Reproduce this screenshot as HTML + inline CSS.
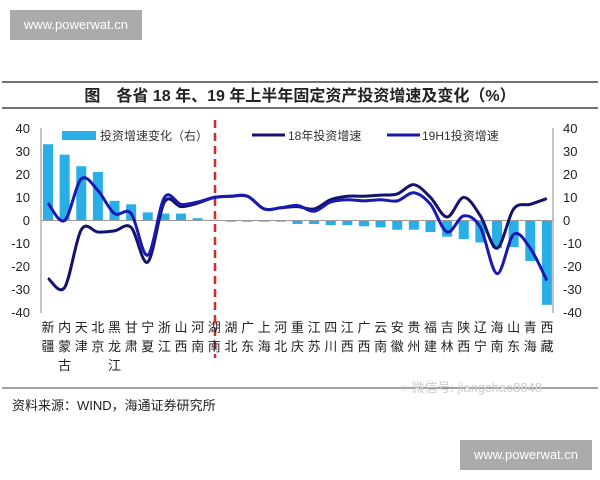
<!DOCTYPE html>
<html><head><meta charset="utf-8"><style>
body{margin:0;background:#fff;width:600px;height:480px;overflow:hidden;position:relative;font-family:"Liberation Sans","Noto Sans CJK SC",sans-serif}
.wm{position:absolute;background:#ababab;color:#fff;font-size:13px;line-height:30px;text-align:center;width:132px;height:30px}
</style></head><body>
<div class="wm" style="left:10px;top:10px">www.powerwat.cn</div>
<div class="wm" style="left:460px;top:440px">www.powerwat.cn</div>
<svg width="600" height="480" style="position:absolute;left:0;top:0" font-family="Liberation Sans, Noto Sans CJK SC, sans-serif">
<line x1="2" y1="82" x2="598" y2="82" stroke="#444" stroke-width="1.5"/>
<line x1="2" y1="108" x2="598" y2="108" stroke="#444" stroke-width="1.5"/>
<text x="300" y="101" font-size="16" font-weight="bold" text-anchor="middle" fill="#222">图　各省 18 年、19 年上半年固定资产投资增速及变化（%）</text>
<line x1="2" y1="388" x2="598" y2="388" stroke="#444" stroke-width="1"/>
<text x="400" y="392" font-size="13" fill="#ccc">◌ 微信号: jiangchao8848</text>
<text x="12" y="410" font-size="13" fill="#222">资料来源：WIND，海通证券研究所</text>
<g id="ax" font-size="13" fill="#222">
<line x1="41" y1="128" x2="41" y2="313" stroke="#888"/>
<line x1="553" y1="128" x2="553" y2="313" stroke="#888"/>
<g text-anchor="end">
<text x="30" y="133">40</text><text x="30" y="156">30</text><text x="30" y="179">20</text><text x="30" y="202">10</text><text x="30" y="225">0</text><text x="30" y="248">-10</text><text x="30" y="271">-20</text><text x="30" y="294">-30</text><text x="30" y="317">-40</text>
</g>
<g>
<text x="563" y="133">40</text><text x="563" y="156">30</text><text x="563" y="179">20</text><text x="563" y="202">10</text><text x="563" y="225">0</text><text x="563" y="248">-10</text><text x="563" y="271">-20</text><text x="563" y="294">-30</text><text x="563" y="317">-40</text>
</g>
</g>
<g id="bars"></g>
<line x1="41" y1="220.5" x2="553" y2="220.5" stroke="#999"/>
<line x1="215" y1="120" x2="215" y2="358" stroke="#d42a2a" stroke-width="2.5" stroke-dasharray="8,5"/>
<path id="l18" fill="none" stroke="#14136b" stroke-width="3"/>
<path id="l19" fill="none" stroke="#1a1ab0" stroke-width="3"/>
<rect x="62" y="131" width="34" height="9" fill="#29aee6"/>
<text x="100" y="140" font-size="12" fill="#333">投资增速变化（右）</text>
<line x1="252" y1="135" x2="285" y2="135" stroke="#14136b" stroke-width="3"/>
<text x="288" y="140" font-size="12" fill="#333">18年投资增速</text>
<line x1="387" y1="135" x2="420" y2="135" stroke="#1a1ab0" stroke-width="3"/>
<text x="422" y="140" font-size="12" fill="#333">19H1投资增速</text>
<g font-size="13" fill="#222" text-anchor="middle" id="cats">
<text y="332"><tspan x="48">新</tspan><tspan x="64.6">内</tspan><tspan x="81.3">天</tspan><tspan x="97.9">北</tspan><tspan x="114.5">黑</tspan><tspan x="131.2">甘</tspan><tspan x="147.8">宁</tspan><tspan x="164.4">浙</tspan><tspan x="181">山</tspan><tspan x="197.7">河</tspan><tspan x="214.3">湖</tspan><tspan x="230.9">湖</tspan><tspan x="247.6">广</tspan><tspan x="264.2">上</tspan><tspan x="280.8">河</tspan><tspan x="297.5">重</tspan><tspan x="314.1">江</tspan><tspan x="330.7">四</tspan><tspan x="347.3">江</tspan><tspan x="364">广</tspan><tspan x="380.6">云</tspan><tspan x="397.2">安</tspan><tspan x="413.9">贵</tspan><tspan x="430.5">福</tspan><tspan x="447.1">吉</tspan><tspan x="463.8">陕</tspan><tspan x="480.4">辽</tspan><tspan x="497">海</tspan><tspan x="513.6">山</tspan><tspan x="530.3">青</tspan><tspan x="547">西</tspan></text>
<text y="351"><tspan x="48">疆</tspan><tspan x="64.6">蒙</tspan><tspan x="81.3">津</tspan><tspan x="97.9">京</tspan><tspan x="114.5">龙</tspan><tspan x="131.2">肃</tspan><tspan x="147.8">夏</tspan><tspan x="164.4">江</tspan><tspan x="181">西</tspan><tspan x="197.7">南</tspan><tspan x="214.3">南</tspan><tspan x="230.9">北</tspan><tspan x="247.6">东</tspan><tspan x="264.2">海</tspan><tspan x="280.8">北</tspan><tspan x="297.5">庆</tspan><tspan x="314.1">苏</tspan><tspan x="330.7">川</tspan><tspan x="347.3">西</tspan><tspan x="364">西</tspan><tspan x="380.6">南</tspan><tspan x="397.2">徽</tspan><tspan x="413.9">州</tspan><tspan x="430.5">建</tspan><tspan x="447.1">林</tspan><tspan x="463.8">西</tspan><tspan x="480.4">宁</tspan><tspan x="497">南</tspan><tspan x="513.6">东</tspan><tspan x="530.3">海</tspan><tspan x="547">藏</tspan></text>
<text y="370"><tspan x="64.6">古</tspan><tspan x="114.5">江</tspan></text>
</g>
</svg>
<script>
var bars=[33,28.5,23.5,21,8.5,7,3.5,3,3,1,0.3,-0.5,-0.5,-0.5,-0.5,-1.5,-1.5,-2,-2,-2.5,-3,-4,-4,-5,-7,-8,-9.5,-12,-11.5,-17.5,-36.5];
var a=[-25,-29,-4,-5,-4.5,-3,-18,8,6,7.5,10,10.5,10.5,5,5.5,6,5,9,10.5,10.5,11,11.5,15.5,10,1.5,10,2,-12,5,7,9.5];
var b=[7.5,0,18,13,3,3,-15,10,7,8,10,10.5,10.5,5,5.5,6.5,4,8,9,8.5,9,8.5,12,7,-5,2,-3,-23,-6,-12,-26];
function X(i){return 48+i*16.63}function Y(v){return 220.5-v*2.31}
var g=document.getElementById('bars'),s='';
bars.forEach(function(v,i){var y=Y(Math.max(v,0)),h=Math.abs(v)*2.31;s+='<rect x="'+(X(i)-5)+'" y="'+y+'" width="10" height="'+Math.max(h,1)+'" fill="#29aee6"/>';});
g.innerHTML=s;
function path(d){var p=d.map(function(v,i){return[X(i),Y(v)]});var o='M'+p[0][0]+','+p[0][1];
for(var i=0;i<p.length-1;i++){var p0=p[i-1]||p[i],p1=p[i],p2=p[i+1],p3=p[i+2]||p2;
o+='C'+(p1[0]+(p2[0]-p0[0])/6)+','+(p1[1]+(p2[1]-p0[1])/6)+' '+(p2[0]-(p3[0]-p1[0])/6)+','+(p2[1]-(p3[1]-p1[1])/6)+' '+p2[0]+','+p2[1];}return o;}
document.getElementById('l18').setAttribute('d',path(a));
document.getElementById('l19').setAttribute('d',path(b));
</script>
</body></html>
